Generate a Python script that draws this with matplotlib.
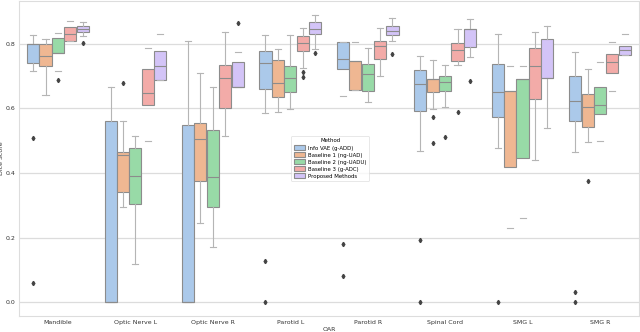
import matplotlib
matplotlib.use("Agg")
import matplotlib.pyplot as plt
import seaborn as sns

# categories (OAR) and methods
oars = ["Mandible", "Optic Nerve L", "Optic Nerve R", "Parotid L",
        "Parotid R", "Spinal Cord", "SMG L", "SMG R"]
methods = ["Info VAE (g-ADD)", "Baseline 1 (ng-UAD)", "Baseline 2 (ng-UADU)",
           "Baseline 3 (g-ADC)", "Proposed Methods"]

# box statistics, rows = OAR, cols = method
q1 = [[0.739, 0.730, 0.772, 0.808, 0.835],
      [0.000, 0.342, 0.305, 0.609, 0.688],
      [0.000, 0.376, 0.293, 0.602, 0.667],
      [0.659, 0.634, 0.651, 0.778, 0.829],
      [0.721, 0.656, 0.654, 0.754, 0.828],
      [0.593, 0.651, 0.655, 0.745, 0.790],
      [0.573, 0.418, 0.445, 0.630, 0.694],
      [0.560, 0.542, 0.581, 0.708, 0.764]]
med = [[0.800, 0.761, 0.772, 0.830, 0.844],
       [0.000, 0.456, 0.389, 0.648, 0.732],
       [0.000, 0.504, 0.387, 0.693, 0.667],
       [0.741, 0.677, 0.695, 0.801, 0.846],
       [0.753, 0.745, 0.706, 0.793, 0.838],
       [0.676, 0.691, 0.680, 0.781, 0.846],
       [0.649, 0.653, 0.690, 0.730, 0.694],
       [0.623, 0.603, 0.609, 0.742, 0.780]]
q3 = [[0.800, 0.798, 0.816, 0.851, 0.854],
      [0.561, 0.466, 0.477, 0.721, 0.776],
      [0.547, 0.554, 0.532, 0.734, 0.742],
      [0.778, 0.748, 0.731, 0.824, 0.866],
      [0.804, 0.745, 0.738, 0.809, 0.854],
      [0.718, 0.691, 0.700, 0.802, 0.846],
      [0.736, 0.653, 0.690, 0.786, 0.813],
      [0.701, 0.643, 0.665, 0.768, 0.792]]
whis_lo = [[0.714, 0.641, 0.716, 0.808, 0.824],
           [0.000, 0.294, 0.119, 0.500, 0.688],
           [0.000, 0.244, 0.172, 0.513, 0.667],
           [0.586, 0.590, 0.598, 0.724, 0.782],
           [0.639, 0.656, 0.618, 0.699, 0.807],
           [0.467, 0.597, 0.603, 0.734, 0.758],
           [0.478, 0.231, 0.260, 0.439, 0.539],
           [0.464, 0.495, 0.498, 0.652, 0.764]]
whis_hi = [[0.826, 0.813, 0.834, 0.871, 0.867],
           [0.667, 0.560, 0.513, 0.788, 0.831],
           [0.808, 0.708, 0.667, 0.837, 0.773],
           [0.826, 0.782, 0.827, 0.849, 0.890],
           [0.804, 0.806, 0.785, 0.847, 0.878],
           [0.762, 0.748, 0.733, 0.844, 0.877],
           [0.829, 0.732, 0.732, 0.837, 0.856],
           [0.774, 0.723, 0.742, 0.805, 0.831]]
fliers = [[[0.509, 0.060], [], [0.688], [], [0.801]],
          [[], [0.679], [], [], []],
          [[], [], [], [], [0.863]],
          [[0.128, 0.0], [], [], [0.712, 0.696], [0.772]],
          [[0.179, 0.081], [], [], [], [0.768]],
          [[0.192, 0.0], [0.574, 0.494], [0.510], [0.589], [0.684]],
          [[0.0], [], [], [], []],
          [[0.031, 0.0], [0.375], [], [], []]]

# boxes whose whisker lines do not show in the reference (only caps)
no_whisker = {(0, 2), (0, 3), (1, 3), (1, 4), (2, 4), (4, 0), (4, 1),
              (6, 1), (6, 2), (7, 2), (7, 3), (7, 4)}

colors = [sns.desaturate(c, 0.75) for c in sns.color_palette("pastel", 5)]

fig = plt.figure(figsize=(6.4, 3.32), dpi=100)
ax = fig.add_axes([0.030, 0.048, 0.968, 0.949])

width = 0.8 / len(methods)
for j, m in enumerate(methods):
    stats = []
    for i in range(len(oars)):
        stats.append(dict(q1=q1[i][j], med=med[i][j], q3=q3[i][j],
                          whislo=whis_lo[i][j], whishi=whis_hi[i][j],
                          fliers=fliers[i][j]))
    pos = [i - 0.4 + width * (j + 0.5) for i in range(len(oars))]
    res = ax.bxp(stats, positions=pos, widths=width * 0.98, patch_artist=True,
                 manage_ticks=False,
                 boxprops=dict(facecolor=colors[j], edgecolor="#8c8c8c", linewidth=0.8),
                 medianprops=dict(color="#8c8c8c", linewidth=0.8),
                 whiskerprops=dict(color="#b5b5b5", linewidth=0.8),
                 capprops=dict(color="#b5b5b5", linewidth=0.8),
                 flierprops=dict(marker="d", markersize=2.2, markerfacecolor="#444444",
                                 markeredgecolor="#444444", linestyle="none"))
    for i in range(len(oars)):
        if (i, j) in no_whisker:
            res["whiskers"][2 * i].set_visible(False)
            res["whiskers"][2 * i + 1].set_visible(False)
    res["boxes"][0].set_label(m)

ax.set_xlim(-0.5, len(oars) - 0.5)
ax.set_ylim(-0.043, 0.932)
ax.set_xticks(range(len(oars)))
ax.set_xticklabels(oars, fontsize=4.5, color="#333333")
ax.set_yticks([0.0, 0.2, 0.4, 0.6, 0.8])
ax.set_yticklabels(["0.0", "0.2", "0.4", "0.6", "0.8"], fontsize=4.5, color="#333333")
ax.tick_params(length=0, pad=3)
ax.yaxis.grid(True, color="#dcdcdc", linewidth=0.9)
ax.xaxis.grid(False)
ax.set_axisbelow(True)
for s in ax.spines.values():
    s.set_color("#dddddd")
    s.set_linewidth(0.8)

ax.set_xlabel("OAR", fontsize=4.5, color="#333333", labelpad=1.5)
ax.set_ylabel("Dice Score", fontsize=4.5, color="#333333", labelpad=1)

leg = ax.legend(title="Method", loc="center", bbox_to_anchor=(0.502, 0.50),
                fontsize=3.9, title_fontsize=3.9, frameon=True,
                handlelength=2.0, handleheight=0.9, borderpad=0.5, labelspacing=0.35,
                handletextpad=0.6)
leg.get_frame().set_edgecolor("#dddddd")
leg.get_frame().set_linewidth(0.6)

plt.savefig("out.png", dpi=100)
plt.close()
